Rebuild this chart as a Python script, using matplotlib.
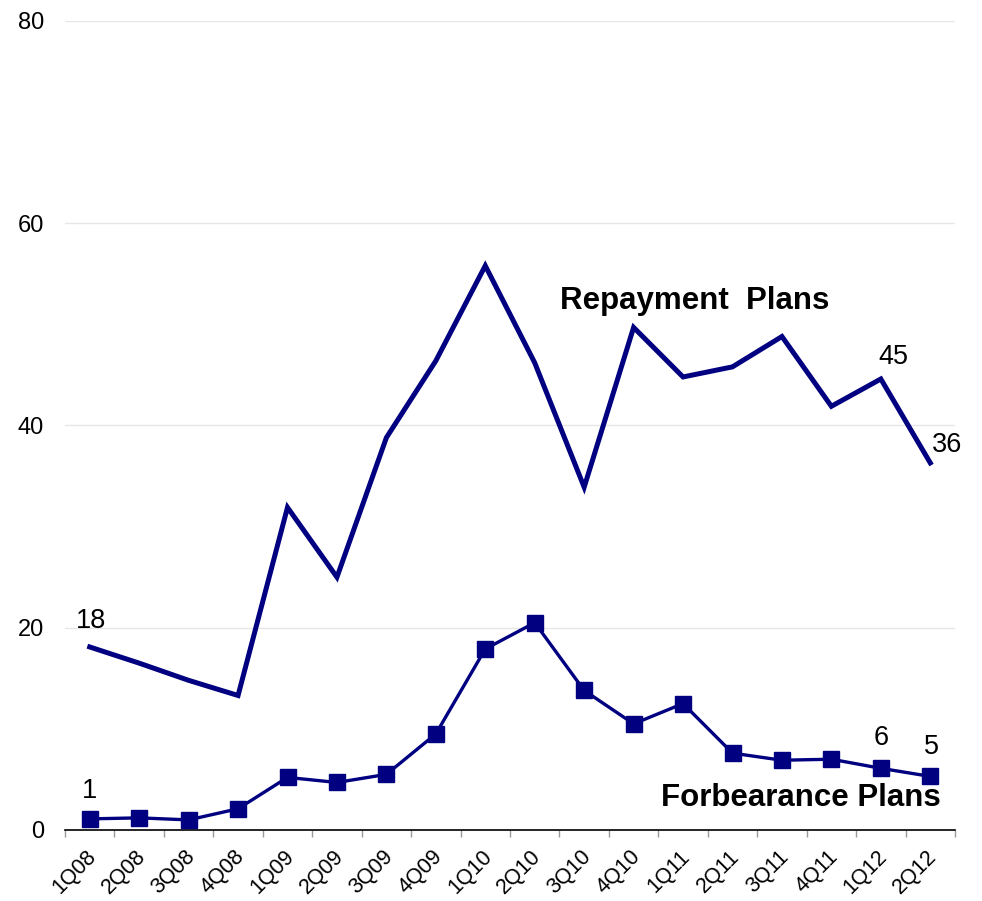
import matplotlib
matplotlib.use("Agg")
import matplotlib.pyplot as plt
import matplotlib.transforms as mtransforms
import numpy as np

quarters = ["1Q08", "2Q08", "3Q08", "4Q08", "1Q09", "2Q09", "3Q09", "4Q09", "1Q10",
            "2Q10", "3Q10", "4Q10", "1Q11", "2Q11", "3Q11", "4Q11", "1Q12", "2Q12"]
repayment = [18.1, 16.5, 14.8, 13.3, 31.9, 25.0, 38.8, 46.4, 55.8,
             46.2, 33.9, 49.7, 44.8, 45.8, 48.8, 41.9, 44.6, 36.3]
forbearance = [1.1, 1.2, 1.0, 2.1, 5.2, 4.7, 5.5, 9.5, 17.9,
               20.5, 13.8, 10.5, 12.5, 7.6, 6.9, 7.0, 6.1, 5.3]
y_ticks = [0, 20, 40, 60, 80]

plt.rcParams['font.family'] = ['Liberation Sans', 'DejaVu Sans']
navy = "#000080"

fig = plt.figure(figsize=(9.82, 9.01), dpi=100)
ax = fig.add_axes([65 / 982, 1 - 830 / 901, 890 / 982, 809 / 901])

x = np.arange(len(quarters))
ax.plot(x, repayment, color=navy, lw=3.6, solid_joinstyle='miter', zorder=3)
ax.plot(x, forbearance, color=navy, lw=2.4, marker='s', markersize=11, zorder=3)

ax.set_xlim(-0.5, len(quarters) - 0.5)
ax.set_ylim(0, 80)
ax.set_yticks(y_ticks)
ax.grid(axis='y', color='#e6e6e6', lw=1)
ax.set_axisbelow(True)
for s in ['left', 'right', 'top']:
    ax.spines[s].set_visible(False)
ax.spines['bottom'].set_color('black')
ax.spines['bottom'].set_linewidth(1.2)

ax.set_xticks(x)
ax.set_xticklabels(quarters, rotation=45, ha='right', rotation_mode='anchor', fontsize=15.5)
ax.tick_params(axis='x', which='major', length=0, pad=10)
offset = mtransforms.ScaledTranslation(-4 / 100, -2 / 100, fig.dpi_scale_trans)
for t in ax.get_xticklabels():
    t.set_transform(t.get_transform() + offset)
ax.set_xticks(np.arange(-0.5, len(quarters), 1), minor=True)
ax.tick_params(axis='x', which='minor', length=5, color='#999999', width=1)
ax.tick_params(axis='y', length=0, labelsize=17, pad=15)

def lab(i, series, text, dx, dy):
    ax.annotate(text, (i, series[i]), xytext=(dx, dy), textcoords='offset points',
                ha='center', va='center', fontsize=19.5, color='black')

lab(0, repayment, "18", 1, 19)
lab(0, forbearance, "1", 0, 20)
lab(16, repayment, "45", 9, 16)
lab(17, repayment, "36", 12, 13)
lab(16, forbearance, "6", 0, 22)
lab(17, forbearance, "5", 1, 21)

ax.text(9.52, 52.3, "Repayment  Plans", fontsize=22.5, fontweight='bold',
        ha='left', va='center')
ax.text(17.21, 3.2, "Forbearance Plans", fontsize=22.5, fontweight='bold',
        ha='right', va='center')

fig.savefig("out.png", dpi=100)
